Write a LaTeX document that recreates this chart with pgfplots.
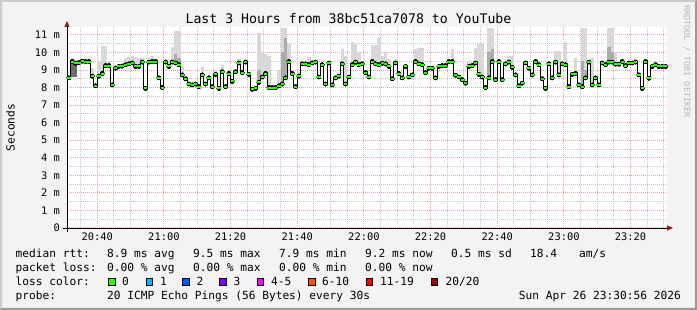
\documentclass[border=0pt]{standalone}
\usepackage{pgfplots}
\pgfplotsset{compat=1.18}
\usepackage{pgfplotstable}
\usepackage{fontspec}
\setmainfont{DejaVu Sans Mono}
\usetikzlibrary{arrows.meta}
\definecolor{bgc}{HTML}{F3F3F3}
\definecolor{shadea}{HTML}{CBCBCB}
\definecolor{shadeb}{HTML}{999999}
\definecolor{mgridc}{HTML}{F2A0A0}
\definecolor{gridc}{HTML}{C4C4C4}
\definecolor{arrowc}{HTML}{8B1A1A}
\definecolor{smokel}{HTML}{D8D8D8}
\definecolor{smoked}{HTML}{ABABAB}
\definecolor{smokex}{HTML}{6E6E6E}
\definecolor{lc0}{HTML}{26FF00}
\definecolor{lc1}{HTML}{00B8FF}
\definecolor{lc2}{HTML}{0059FF}
\definecolor{lc3}{HTML}{7E00FF}
\definecolor{lc4}{HTML}{FF00FF}
\definecolor{lc6}{HTML}{FF5500}
\definecolor{lc11}{HTML}{FF0000}
\definecolor{lc20}{HTML}{A10000}
\definecolor{wm}{HTML}{B8B8B8}

\pgfplotstableread{
t med hi dk lo
31 8.55 8.55 8.55 8.55
32 9.48 9.70 9.48 8.60
33 9.38 9.60 9.38 8.60
34 9.42 9.55 9.42 9.42
35 9.50 9.60 9.50 9.50
36 9.48 9.48 9.48 9.48
37 9.48 9.48 9.48 9.48
38 8.65 9.10 8.65 8.65
39 8.10 8.10 8.10 8.10
40 8.65 9.50 8.65 8.65
41 8.80 10.35 8.80 8.80
42 9.25 10.35 9.25 9.25
43 9.25 9.50 9.25 9.25
44 8.15 8.15 8.15 8.15
45 9.10 9.30 9.10 9.10
46 9.20 9.30 9.20 9.20
47 9.22 9.40 9.22 9.22
48 9.30 9.70 9.30 9.30
49 9.35 9.75 9.35 9.35
50 9.40 9.80 9.40 9.40
51 9.20 9.75 9.20 9.20
52 9.20 9.70 9.20 9.20
53 9.45 9.70 9.45 9.45
54 7.95 7.95 7.95 7.95
55 9.45 9.70 9.45 9.45
56 9.48 9.80 9.48 9.48
57 9.48 9.60 9.48 9.48
58 8.55 8.55 8.55 8.55
59 8.00 8.00 8.00 8.00
60 9.45 9.60 9.45 9.45
61 9.20 9.45 9.20 9.20
62 9.45 10.30 9.45 9.45
63 9.40 11.20 9.90 9.40
64 9.30 11.20 9.70 9.30
65 8.72 9.20 8.72 8.72
66 8.50 8.50 8.50 8.50
67 8.20 8.20 8.20 8.20
68 8.15 8.15 8.15 8.15
69 8.20 8.20 8.20 8.20
70 8.05 8.05 8.05 8.05
71 8.72 9.15 8.72 8.72
72 8.20 8.20 8.20 8.20
73 8.55 8.55 8.55 8.55
74 8.05 8.05 8.05 8.05
75 8.75 9.00 8.75 8.75
76 7.95 7.95 7.95 7.95
77 8.90 9.30 8.90 8.90
78 8.05 8.05 8.05 8.05
79 8.80 8.80 8.80 8.80
80 8.35 8.35 8.35 8.35
81 8.90 8.90 8.90 8.90
82 9.40 9.60 9.40 9.40
83 8.85 8.85 8.85 8.85
84 9.45 9.60 9.45 9.45
85 8.75 8.90 8.75 8.75
86 7.90 7.90 7.90 7.90
87 7.95 7.95 7.95 7.95
88 8.30 11.10 9.00 8.30
89 8.60 10.00 8.60 8.60
90 8.80 9.90 8.80 8.80
91 8.00 9.80 8.00 8.00
92 8.00 8.00 8.00 8.00
93 8.00 8.00 8.00 8.00
94 8.10 9.00 8.10 8.10
95 8.20 11.40 10.00 8.20
96 8.55 11.40 10.80 8.55
97 9.48 10.50 9.48 9.48
98 8.80 8.80 8.80 8.80
99 8.05 8.05 8.05 8.05
100 8.65 8.90 8.65 8.65
101 9.35 9.35 9.35 9.35
102 9.35 9.35 9.35 9.35
103 9.30 9.75 9.30 9.30
104 9.40 9.60 9.40 9.40
105 9.45 9.45 9.45 9.45
106 8.60 8.60 8.60 8.60
107 9.30 9.30 9.30 9.30
108 8.20 8.20 8.20 8.20
109 9.40 9.40 9.40 9.40
110 8.15 8.15 8.15 8.15
111 8.55 8.55 8.55 8.55
112 8.65 8.65 8.65 8.65
113 9.35 10.20 9.35 9.35
114 8.20 9.80 8.20 8.20
115 8.60 8.60 8.60 8.60
116 9.30 10.60 9.30 9.30
117 9.45 10.50 9.45 9.45
118 9.30 10.00 9.30 9.30
119 9.35 9.35 9.35 9.35
120 8.85 8.85 8.85 8.85
121 8.60 8.60 8.60 8.60
122 9.48 10.40 9.48 9.48
123 9.35 10.40 9.35 9.35
124 9.30 10.80 9.30 9.30
125 9.38 9.80 9.38 9.38
126 9.35 10.00 9.35 9.35
127 9.20 9.60 9.20 9.20
128 8.50 8.50 8.50 8.50
129 9.40 9.60 9.40 9.40
130 8.80 8.80 8.80 8.80
131 8.55 8.55 8.55 8.55
132 9.20 9.20 9.20 9.20
133 8.60 8.60 8.60 8.60
134 8.72 8.72 8.72 8.72
135 9.48 10.20 9.48 9.48
136 9.35 10.25 9.35 9.35
137 9.30 10.25 9.30 9.30
138 8.85 8.85 8.85 8.85
139 9.10 9.10 9.10 9.10
140 9.10 9.10 9.10 9.10
141 8.55 8.55 8.55 8.55
142 9.20 9.20 9.20 9.20
143 9.25 9.25 9.25 9.25
144 9.25 9.25 9.25 9.25
145 9.48 9.48 9.48 9.48
146 9.48 10.20 9.48 9.48
147 8.70 8.70 8.70 8.70
148 8.60 8.60 8.60 8.60
149 8.45 8.45 8.45 8.45
150 8.25 8.25 8.25 8.25
151 9.20 9.45 9.20 9.20
152 9.25 9.25 9.25 9.25
153 9.40 10.25 9.40 9.40
154 8.75 10.50 8.75 8.75
155 8.60 10.50 8.60 8.60
156 8.00 8.00 8.00 8.00
157 8.55 11.40 10.00 8.55
158 9.48 11.40 10.20 9.48
159 8.45 8.45 8.45 8.45
160 9.48 9.48 9.48 9.48
161 8.45 8.45 8.45 8.45
162 9.35 9.35 9.35 9.35
163 9.45 9.80 9.45 9.45
164 9.15 9.80 9.15 9.15
165 8.72 8.72 8.72 8.72
166 8.10 8.10 8.10 8.10
167 8.25 8.25 8.25 8.25
168 9.40 9.40 9.40 9.40
169 9.10 9.10 9.10 9.10
170 8.72 8.72 8.72 8.72
171 9.48 9.48 9.48 9.48
172 9.30 9.30 9.30 9.30
173 8.50 8.50 8.50 8.50
174 7.95 7.95 7.95 7.95
175 9.35 9.35 9.35 9.35
176 8.55 8.55 8.55 8.55
177 9.45 10.10 9.45 9.45
178 8.72 10.10 8.72 8.72
179 9.35 9.35 9.35 9.35
180 9.30 10.60 9.30 9.30
181 8.05 8.05 8.05 8.05
182 8.75 8.75 8.75 8.75
183 8.80 9.70 8.80 8.80
184 8.15 8.15 8.15 8.15
185 8.05 11.40 9.50 8.05
186 8.55 11.40 9.00 8.55
187 9.45 9.45 9.45 9.45
188 8.15 9.70 8.15 8.15
189 8.55 8.55 8.55 8.55
190 8.15 8.15 8.15 8.15
191 9.40 9.40 9.40 9.40
192 9.30 9.30 9.30 9.30
193 9.45 11.40 10.30 9.45
194 9.45 11.40 10.00 9.45
195 9.33 10.00 9.33 9.33
196 9.33 9.33 9.33 9.33
197 9.48 9.48 9.48 9.48
198 9.25 9.25 9.25 9.25
199 9.40 9.40 9.40 9.40
200 9.40 9.40 9.40 9.40
201 9.45 9.70 9.45 9.45
202 8.72 8.72 8.72 8.72
203 7.95 7.95 7.95 7.95
204 9.48 9.48 9.48 9.48
205 8.53 8.53 8.53 8.53
206 9.20 9.20 9.20 9.20
207 9.30 9.48 9.30 9.30
208 9.20 9.20 9.20 9.20
209 9.20 9.20 9.20 9.20
210 9.20 9.20 9.20 9.20
210.6 9.20 9.20 9.20 9.20
}\rtt

\newcommand{\lgfont}{\fontsize{11.2}{13}\selectfont}

\begin{document}
\begin{tikzpicture}[x=1pt,y=1pt]
\fill[bgc] (0,0) rectangle (697,310);
\fill[shadea] (0,0) -- (0,310) -- (697,310) -- (695,308) -- (2,308) -- (2,2) -- cycle;
\fill[shadeb] (0,0) -- (697,0) -- (697,310) -- (695,308) -- (695,2) -- (2,2) -- cycle;
\begin{axis}[
  at={(67pt,82pt)}, anchor=south west,
  scale only axis, width=600pt, height=201pt,
  xmin=30.93, xmax=210.93, ymin=0, ymax=11.45,
  axis background/.style={fill=white},
  axis x line=bottom, axis y line=left,
  x axis line style={black, line width=0.8pt, shorten >=-6pt, shorten <=-4pt, -{Triangle[length=6pt,width=5pt,color=arrowc]}},
  y axis line style={black, line width=0.8pt, shorten >=-6pt, shorten <=-4pt, -{Triangle[length=6pt,width=5pt,color=arrowc]}},
  xtick={40,60,...,200},
  xticklabels={20:40,21:00,21:20,21:40,22:00,22:20,22:40,23:00,23:20},
  minor xtick={35,45,50,55,65,70,75,85,90,95,105,110,115,125,130,135,145,150,155,165,170,175,185,190,195,205,210},
  ytick={0,1,...,11},
  yticklabels={0,1 m,2 m,3 m,4 m,5 m,6 m,7 m,8 m,9 m,10 m,11 m},
  minor ytick={0.5,1.5,...,10.5},
  grid=both,
  major grid style={draw=mgridc, line width=1pt, dash pattern=on 1pt off 1pt},
  minor grid style={draw=gridc, line width=1pt, dash pattern=on 1pt off 1pt},
  major tick length=0pt, minor tick length=0pt,
  ticklabel style={font=\fontsize{10.4}{12}\selectfont, text=black},
  xticklabel style={anchor=base, yshift=-12.7pt, inner sep=0pt},
  yticklabel style={anchor=east, inner sep=0pt, xshift=-7pt},
]
\addplot[only marks, mark=none, forget plot,
  error bars/y dir=plus, error bars/y explicit, error bars/error mark=none,
  error bars/error bar style={draw=smokel, line width=3.4pt}]
  table[x expr=\thisrow{t}+0.5, y=med, y error expr=\thisrow{hi}-\thisrow{med}] {\rtt};
\addplot[only marks, mark=none, forget plot,
  error bars/y dir=plus, error bars/y explicit, error bars/error mark=none,
  error bars/error bar style={draw=smoked, line width=3.4pt}]
  table[x expr=\thisrow{t}+0.5, y=med, y error expr=\thisrow{dk}-\thisrow{med}] {\rtt};
\addplot[only marks, mark=none, forget plot,
  error bars/y dir=minus, error bars/y explicit, error bars/error mark=none,
  error bars/error bar style={draw=smokex, line width=3.4pt}]
  table[x expr=\thisrow{t}+0.5, y=med, y error expr=\thisrow{med}-\thisrow{lo}] {\rtt};
\addplot[const plot mark left, draw=black, line width=1pt, mark=none] table[x=t, y=med] {\rtt};
\addplot[only marks, mark=-, mark size=1.7pt, mark options={draw=lc0, line width=2pt},
  restrict x to domain=30:210.9] table[x expr=\thisrow{t}+0.5, y=med] {\rtt};
\end{axis}

\node[anchor=base, inner sep=0pt, font=\fontsize{13.2}{15}\selectfont] at (348.5,286) {Last 3 Hours from 38bc51ca7078 to YouTube};
\node[rotate=90, anchor=base, inner sep=0pt, font=\lgfont] at (14.5,182.5) {Seconds};
\node[rotate=-90, anchor=base west, inner sep=0pt, text=wm, font=\fontsize{8.5}{10}\selectfont] at (684,305) {RRDTOOL / TOBI OETIKER};

\begin{scope}[every node/.style={anchor=base west, inner sep=0pt, font=\lgfont}]
\node at (15.5,52.3) {median rtt:};
\node at (107,52.3) {8.9 ms avg};
\node at (193,52.3) {9.5 ms max};
\node at (279,52.3) {7.9 ms min};
\node at (365,52.3) {9.2 ms now};
\node at (451,52.3) {0.5 ms sd};
\node at (530,52.3) {18.4};
\node at (579,52.3) {am/s};
\node at (15.5,38.3) {packet loss:};
\node at (107,38.3) {0.00 \% avg};
\node at (193,38.3) {0.00 \% max};
\node at (279,38.3) {0.00 \% min};
\node at (365,38.3) {0.00 \% now};
\node at (15.5,24.3) {loss color:};
\node at (122,24.3) {0};
\node at (160,24.3) {1};
\node at (196.5,24.3) {2};
\node at (233.5,24.3) {3};
\node at (271,24.3) {4-5};
\node at (322,24.3) {6-10};
\node at (380,24.3) {11-19};
\node at (445.5,24.3) {20/20};
\node at (15.5,10.6) {probe:};
\node at (107,10.6) {20 ICMP Echo Pings (56 Bytes) every 30s};
\node[anchor=base east] at (681,10.6) {Sun Apr 26 23:30:56 2026};
\end{scope}
\begin{scope}[line width=0.8pt]
\filldraw[fill=lc0, draw=black] (108.7,24.7) rectangle (115.3,31.6);
\filldraw[fill=lc1, draw=black] (146.0,24.7) rectangle (152.6,31.6);
\filldraw[fill=lc2, draw=black] (182.7,24.7) rectangle (189.3,31.6);
\filldraw[fill=lc3, draw=black] (219.7,24.7) rectangle (226.3,31.6);
\filldraw[fill=lc4, draw=black] (257.0,24.7) rectangle (263.6,31.6);
\filldraw[fill=lc6, draw=black] (308.7,24.7) rectangle (315.3,31.6);
\filldraw[fill=lc11, draw=black] (366.0,24.7) rectangle (372.6,31.6);
\filldraw[fill=lc20, draw=black] (431.0,24.7) rectangle (437.6,31.6);
\end{scope}
\pgfresetboundingbox
\useasboundingbox (0,0) rectangle (697,310);
\end{tikzpicture}
\end{document}
